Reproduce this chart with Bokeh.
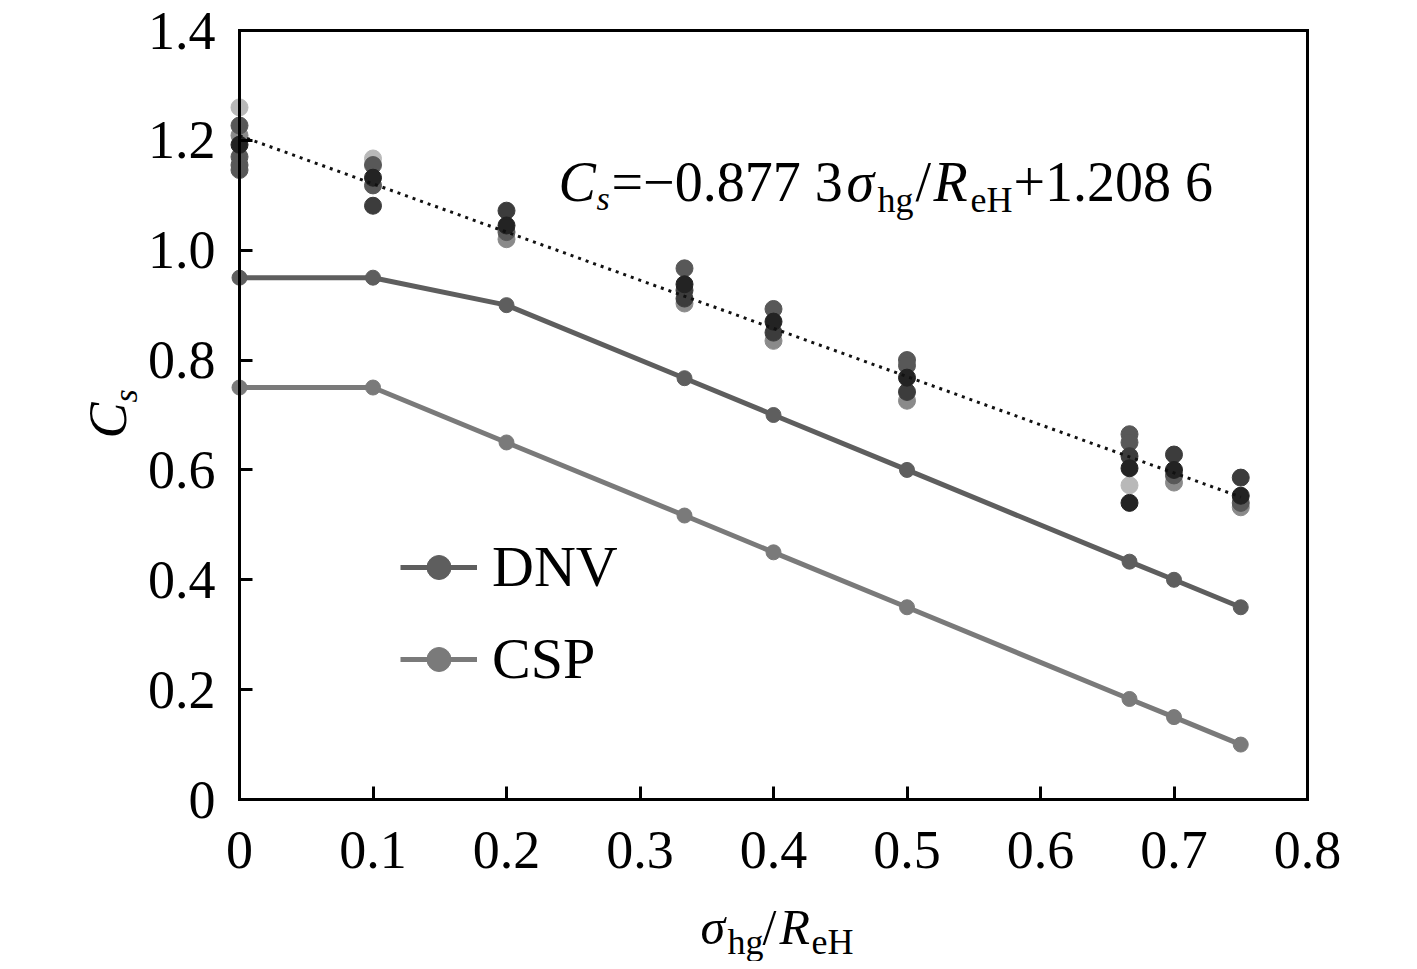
import math
from bokeh.plotting import figure
from bokeh.models import (Range1d, FixedTicker, Label, Legend, LegendItem,
                          ColumnDataSource, LinearAxis)
from bokeh.embed import file_html
from bokeh.resources import INLINE

# ---------------- data ----------------
x_ticks = [0, 0.1, 0.2, 0.3, 0.4, 0.5, 0.6, 0.7, 0.8]
x_tick_labels = ["0", "0.1", "0.2", "0.3", "0.4", "0.5", "0.6", "0.7", "0.8"]
y_ticks = [0, 0.2, 0.4, 0.6, 0.8, 1.0, 1.2, 1.4]
y_tick_labels = ["0", "0.2", "0.4", "0.6", "0.8", "1.0", "1.2", "1.4"]
x_lim = (0, 0.8)
y_lim = (0, 1.4)

ratio = [0, 0.1, 0.2, 1/3, 0.4, 0.5, 2/3, 0.7, 0.75]
dnv = [0.95, 0.95, 0.90, 0.767, 0.70, 0.60, 0.433, 0.40, 0.35]
csp = [0.75, 0.75, 0.65, 0.517, 0.45, 0.35, 0.183, 0.15, 0.10]

test_x = ([0] * 7 + [0.1] * 5 + [0.2] * 4 + [1/3] * 5 + [0.4] * 4 +
          [0.5] * 5 + [2/3] * 6 + [0.7] * 4 + [0.75] * 4)
test_y = [1.260, 1.227, 1.209, 1.192, 1.170, 1.155, 1.146,
          1.167, 1.155, 1.132, 1.118, 1.081,
          1.072, 1.045, 1.033, 1.020,
          0.967, 0.938, 0.927, 0.912, 0.903,
          0.893, 0.870, 0.850, 0.835,
          0.800, 0.790, 0.768, 0.742, 0.726,
          0.665, 0.650, 0.625, 0.603, 0.572, 0.540,
          0.628, 0.600, 0.590, 0.577,
          0.586, 0.553, 0.540, 0.532]
test_grp = ["L", "M", "G", "D", "M", "M", "M",
            "L", "M", "D", "M", "K",
            "K", "D", "M", "G",
            "M", "D", "K", "K", "G",
            "M", "D", "K", "G",
            "M", "M", "D", "K", "G",
            "M", "M", "K", "D", "L", "D",
            "K", "D", "M", "G",
            "K", "D", "M", "G"]

fit_slope = -0.8773
fit_intercept = 1.2086
fit_x = [0, 0.75]

series_names = ["DNV", "CSP"]

# ---------------- styles / layout ----------------
FONT = "Liberation Serif"
shade = {"L": "#b8b8b8", "G": "#8a8a8a", "M": "#585858", "K": "#3c3c3c", "D": "#232323"}
draw_rank = {"L": 0, "G": 1, "M": 2, "K": 3, "D": 4}
DNV_COLOR = "#5e5e5e"
CSP_COLOR = "#7a7a7a"

W, H = 1409, 961
BOX_L, BOX_R, BOX_T, BOX_B = 239, 1307, 30, 799   # pixel position of the axes box
sx = (BOX_R - BOX_L) / (x_lim[1] - x_lim[0])
sy = (BOX_B - BOX_T) / (y_lim[1] - y_lim[0])
xr = Range1d(x_lim[0] - BOX_L / sx, x_lim[1] + (W - BOX_R) / sx)
yr = Range1d(y_lim[0] - (H - BOX_B) / sy, y_lim[1] + BOX_T / sy)

p = figure(frame_width=W, frame_height=H, min_border=0,
           x_range=xr, y_range=yr,
           x_axis_location=None, y_axis_location=None,
           output_backend="svg", toolbar_location=None,
           background_fill_color="white", border_fill_color="white")
p.grid.visible = False
p.outline_line_color = None


def make_axis(loc, bounds, ticks, labels):
    ax = LinearAxis(fixed_location=loc, bounds=bounds,
                    ticker=FixedTicker(ticks=ticks))
    ax.major_label_overrides = {t: l for t, l in zip(ticks, labels)}
    ax.minor_tick_line_color = None
    ax.major_tick_in = 13
    ax.major_tick_out = 0
    ax.major_tick_line_width = 3
    ax.axis_line_width = 3
    ax.axis_line_cap = "square"
    ax.major_label_text_font = FONT
    ax.major_label_text_font_size = "54px"
    ax.major_label_text_color = "black"
    if not ticks:
        ax.major_tick_line_color = None
        ax.major_label_text_font_size = "0px"
    return ax


xb = make_axis(y_lim[0], x_lim, x_ticks, x_tick_labels)
xb.major_label_standoff = 32
yl = make_axis(x_lim[0], y_lim, y_ticks, y_tick_labels)
yl.major_label_standoff = 24
xt = make_axis(y_lim[1], x_lim, [], [])
yrt = make_axis(x_lim[1], y_lim, [], [])
p.add_layout(xb, "below")
p.add_layout(yl, "left")
p.add_layout(xt, "above")
p.add_layout(yrt, "right")

# series lines
r_csp_l = p.line(ratio, csp, line_color=CSP_COLOR, line_width=5)
r_csp_s = p.scatter(ratio, csp, size=15, fill_color=CSP_COLOR, line_color=CSP_COLOR)
r_dnv_l = p.line(ratio, dnv, line_color=DNV_COLOR, line_width=5)
r_dnv_s = p.scatter(ratio, dnv, size=15, fill_color=DNV_COLOR, line_color=DNV_COLOR)

# test points
order = sorted(range(len(test_x)), key=lambda i: draw_rank[test_grp[i]])
src = ColumnDataSource(dict(
    x=[test_x[i] for i in order],
    y=[test_y[i] for i in order],
    c=[shade[test_grp[i]] for i in order]))
p.scatter("x", "y", source=src, size=17, fill_color="c", line_color="c")

# fit line
fit_y = [fit_slope * v + fit_intercept for v in fit_x]
p.line(fit_x, fit_y, line_color="#111111", line_width=3, line_dash="3 5")

legend = Legend(items=[LegendItem(label=series_names[0], renderers=[r_dnv_l, r_dnv_s]),
                       LegendItem(label=series_names[1], renderers=[r_csp_l, r_csp_s])],
                location=(400, H - 661 - 31), padding=0, margin=0, spacing=25,
                glyph_width=77, glyph_height=60, label_height=60, label_standoff=15,
                label_text_font=FONT, label_text_font_size="58px",
                label_text_color="black",
                border_line_color=None, background_fill_alpha=0)
p.add_layout(legend)

K_BASE = 0.28  # empirical correction of the rendered baseline


def put(txt, ix, iy, size, italic=False, angle=0.0):
    if angle:
        ix = ix - K_BASE * size
    else:
        iy = iy - K_BASE * size
    p.add_layout(Label(x=ix, y=H - iy, x_units="screen", y_units="screen",
                       text=txt, text_font=FONT, text_font_size=f"{size}px",
                       text_font_style="italic" if italic else "normal",
                       text_color="black", text_align="left",
                       text_baseline="alphabetic", angle=angle))


# equation
put("C", 558, 197, 56, True)
put("s", 596, 208, 34, True)
put("=\u22120.877 3", 611, 197, 56)
put("\u03c3", 846, 197, 56, True)
put("hg", 877, 210, 36)
put("/", 915, 197, 56)
put("R", 933, 197, 56, True)
put("eH", 970, 210, 36)
put("+1.208 6", 1013, 197, 56)

# x axis title
put("\u03c3", 700, 940, 50, True)
put("hg", 727, 952, 36)
put("/", 762, 940, 50)
put("R", 779, 940, 50, True)
put("eH", 811, 952, 36)

# y axis title (rotated)
put("C", 123, 438, 54, True, math.pi / 2)
put("s", 135, 402, 34, True, math.pi / 2)

open("out.html", "w").write(file_html(p, INLINE))
